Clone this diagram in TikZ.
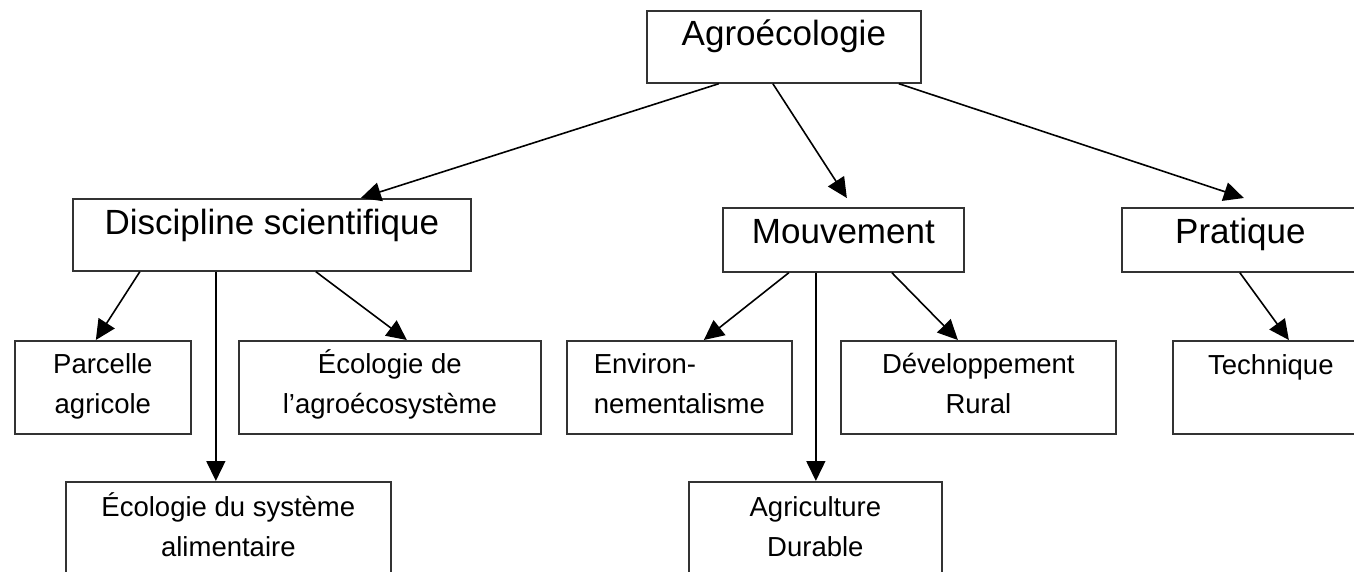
\documentclass[tikz,border=0pt]{standalone}
\usepackage{fontspec}
\setmainfont{Liberation Sans}
\usetikzlibrary{arrows.meta}
\tikzstyle{box} = [rectangle, draw=black!80, line width=1.7pt, anchor=north west, inner sep=0pt, align=center]
\tikzstyle{big} = [box, font=\fontsize{35}{40}\selectfont]
\tikzstyle{small} = [box, font=\fontsize{27.5}{40}\selectfont]
\tikzstyle{arrow} = [-{Triangle[length=20pt,width=19pt]}, line width=1.6pt]

\begin{document}
\begin{tikzpicture}[x=1pt, y=-1pt]
    \useasboundingbox (0,0) rectangle (1354,572);
    \clip (0,0) rectangle (1354,572);

    % top level
    \node (agro) [big, minimum width=274pt, text height=35pt, text depth=37pt] at (646,10) {Agroécologie};

    % second level
    \node (disc) [big, minimum width=398pt, text height=36pt, text depth=36pt] at (72,198) {Discipline scientifique};
    \node (mouv) [big, minimum width=241pt, text height=36pt, text depth=28pt] at (722,207) {Mouvement};
    \node (prat) [big, minimum width=237pt, text height=36pt, text depth=28pt] at (1121,207) {Pratique};

    % third level
    \node (parc) [small, minimum width=176pt, text height=73pt, text depth=20pt] at (14,340) {Parcelle\\agricole};
    \node (ecoagro) [small, minimum width=302pt, text height=73pt, text depth=20pt] at (238,340) {Écologie de\\l’agroécosystème};
    \node (env) [small, align=left, minimum width=225pt, text height=73pt, text depth=20pt] at (566,340) {Environ-\\nementalisme};
    \node (dev) [small, minimum width=275pt, text height=73pt, text depth=20pt] at (840,340) {Développement\\Rural};
    \node (tech) [small, minimum width=196pt, text height=34pt, text depth=59pt] at (1172,340) {Technique};
    \node (alim) [small, minimum width=325pt, text height=75pt, text depth=35pt] at (65,481) {Écologie du système\\alimentaire};
    \node (agri) [small, minimum width=253pt, text height=75pt, text depth=35pt] at (688,481) {Agriculture\\Durable};

    \draw [arrow] ([xshift=-65pt]agro.south) -- ([xshift=89pt]disc.north);
    \draw [arrow] ([xshift=-11pt]agro.south) -- ([xshift=3.5pt,yshift=9pt]mouv.north);
    \draw [arrow] ([xshift=115pt]agro.south) -- ([xshift=3.5pt,yshift=9pt]prat.north);

    \draw [arrow] ([xshift=-132pt]disc.south) -- ([xshift=-7pt]parc.north);
    \draw [arrow] ([xshift=-56pt]disc.south) -- ([xshift=-12.5pt]alim.north);
    \draw [arrow] ([xshift=44pt]disc.south) -- ([xshift=17pt]ecoagro.north);

    \draw [arrow] ([xshift=-54.5pt]mouv.south) -- ([xshift=24.5pt]env.north);
    \draw [arrow] ([xshift=-27.5pt]mouv.south) -- ([xshift=0.5pt]agri.north);
    \draw [arrow] ([xshift=48.5pt]mouv.south) -- ([xshift=-20.5pt]dev.north);

    \draw [arrow] ([xshift=-0.5pt]prat.south) -- ([xshift=18pt]tech.north);
\end{tikzpicture}
\end{document}
